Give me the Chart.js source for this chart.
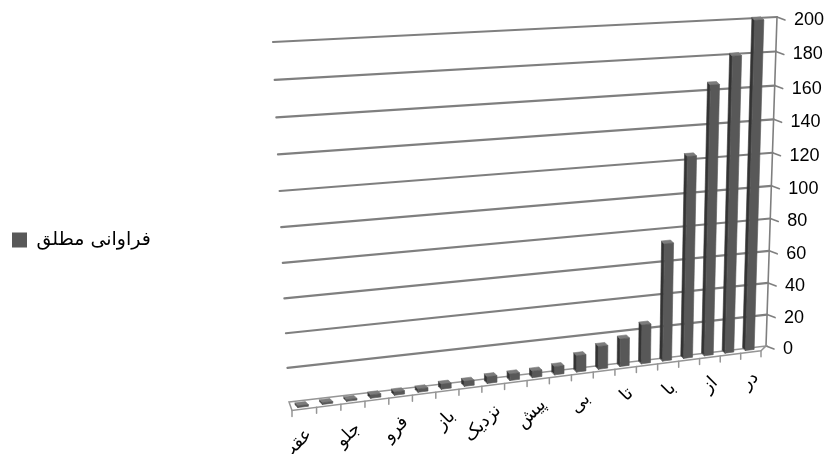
<!DOCTYPE html>
<html>
<head>
<meta charset="utf-8">
<script src="https://cdn.jsdelivr.net/npm/chart.js@4/dist/chart.umd.min.js"></script>
<style>
  html, body { margin: 0; padding: 0; background: #fff; }
</style>
</head>
<body>
<canvas id="chart-freq" width="832" height="454"></canvas>
<script>
// ===== Data (most frequent first, the axis runs right-to-left) =====
const categories = ['در', '', 'از', '', 'با', '', 'تا', '', 'بی', '', 'پیش', '',
                    'نزدیک', '', 'باز', '', 'فرو', '', 'جلو', '', 'عقب'];
const frequencies = [200, 180, 164, 123, 72, 24, 17, 14, 10, 5, 4,
                     4, 4, 3, 3, 2, 2, 2, 1, 1, 1];
const yTicks = [0, 20, 40, 60, 80, 100, 120, 140, 160, 180, 200];
const seriesLabel = 'فراوانی مطلق';

// ===== 3D look =====
const colors = {
  grid: '#7f7f7f',
  floor: '#959595',
  front: '#585858',
  side: '#333333',
  top: '#7c7c7c',
  text: '#000'
};

// corners of the back wall and of the plane the columns stand in (TL, TR, BR, BL)
const wallQuad = [[273, 42], [777, 17], [766, 346], [289, 402]];
const barQuad = [[276, 46], [770, 19.5], [760, 348.7], [291, 408.5]];
const depth = [-3, -3];   // offset from a column's front face to its back face

// square -> quad perspective mapping
function makeQuad(p) {
  const [p0, p1, p2, p3] = p;
  const dx1 = p1[0] - p2[0], dx2 = p3[0] - p2[0], dx3 = p0[0] - p1[0] + p2[0] - p3[0];
  const dy1 = p1[1] - p2[1], dy2 = p3[1] - p2[1], dy3 = p0[1] - p1[1] + p2[1] - p3[1];
  const den = dx1 * dy2 - dx2 * dy1;
  const g = (dx3 * dy2 - dx2 * dy3) / den;
  const h = (dx1 * dy3 - dx3 * dy1) / den;
  const a = p1[0] - p0[0] + g * p1[0], b = p3[0] - p0[0] + h * p3[0], c = p0[0];
  const d = p1[1] - p0[1] + g * p1[1], e = p3[1] - p0[1] + h * p3[1], f = p0[1];
  return (u, v) => {
    const w = g * u + h * v + 1;
    return [(a * u + b * v + c) / w, (d * u + e * v + f) / w];
  };
}

const wall = makeQuad(wallQuad);
const barPlane = makeQuad(barQuad);

function poly(ctx, pts, fill, stroke) {
  ctx.beginPath();
  pts.forEach((p, i) => i ? ctx.lineTo(p[0], p[1]) : ctx.moveTo(p[0], p[1]));
  ctx.closePath();
  if (fill) { ctx.fillStyle = fill; ctx.fill(); }
  if (stroke) { ctx.strokeStyle = stroke; ctx.stroke(); }
}

function line(ctx, a, b) {
  ctx.beginPath();
  ctx.moveTo(a[0], a[1]);
  ctx.lineTo(b[0], b[1]);
  ctx.stroke();
}

// Draws walls, floor, columns and axis texts by projecting the flat chart area
const perspective = {
  id: 'perspective',
  beforeDatasetsDraw() { return false; },
  afterDraw(chart) {
    const { ctx, chartArea: ca, scales } = chart;
    const xs = scales.x, ys = scales.y;
    const uv = (px, py) => [(px - ca.left) / (ca.right - ca.left), (py - ca.top) / (ca.bottom - ca.top)];
    const onWall = (px, py) => wall(...uv(px, py));
    const onBars = (px, py) => barPlane(...uv(px, py));
    const shift = (p, d) => [p[0] + d[0], p[1] + d[1]];

    ctx.save();
    ctx.lineCap = 'round';

    // gridlines on the back wall + ticks on the side
    ctx.strokeStyle = colors.grid;
    ctx.lineWidth = 2.2;
    yTicks.forEach(t => {
      const py = ys.getPixelForValue(t);
      const l = onWall(ca.left, py), r = onWall(ca.right, py);
      if (t > 0) line(ctx, l, r);
      ctx.lineWidth = 1.6;
      line(ctx, r, shift(r, [8, 3]));
      ctx.lineWidth = 2.2;
    });
    ctx.lineWidth = 1.6;
    line(ctx, onWall(ca.right, ca.top), onWall(ca.right, ca.bottom));

    // floor outline
    ctx.lineWidth = 1.5;
    const fl = shift(onBars(ca.left, ca.bottom), [1, 2]);
    const fr = shift(onBars(ca.right, ca.bottom), [1, 2]);
    poly(ctx, [onWall(ca.left, ca.bottom), onWall(ca.right, ca.bottom), fr, fl], null, colors.floor);

    // category ticks under the floor front edge
    ctx.strokeStyle = colors.floor;
    const step = (ca.right - ca.left) / categories.length;
    for (let i = 0; i <= categories.length; i++) {
      const p = shift(onBars(ca.left + i * step, ca.bottom), [1, 2]);
      line(ctx, p, [p[0], p[1] + 6]);
    }

    // columns
    ctx.lineWidth = 0.6;
    const meta = chart.getDatasetMeta(0);
    meta.data.forEach(el => {
      const x0 = el.x - el.width / 2, x1 = el.x + el.width / 2;
      const fbl = onBars(x0, el.base), fbr = onBars(x1, el.base);
      const ftl = onBars(x0, el.y), ftr = onBars(x1, el.y);
      const btl = shift(ftl, depth), btr = shift(ftr, depth), bbl = shift(fbl, depth);
      poly(ctx, [fbl, ftl, btl, bbl], colors.side, colors.side);
      poly(ctx, [ftl, ftr, btr, btl], colors.top, colors.top);
      poly(ctx, [fbl, fbr, ftr, ftl], colors.front, colors.front);
    });

    // value axis labels
    ctx.fillStyle = colors.text;
    ctx.font = '18px "Liberation Sans", Arial, sans-serif';
    ctx.textAlign = 'left';
    ctx.textBaseline = 'middle';
    yTicks.forEach(t => {
      const r = onWall(ca.right, ys.getPixelForValue(t));
      ctx.fillText(String(t), r[0] + 17, r[1] + 3);
    });

    // category labels, rotated
    ctx.font = '18px "DejaVu Sans", sans-serif';
    ctx.textAlign = 'right';
    categories.forEach((c, i) => {
      if (!c) return;
      const p = onBars(xs.getPixelForValue(i), ca.bottom);
      ctx.save();
      ctx.translate(p[0] + 6, p[1] + 25);
      ctx.rotate(-Math.PI / 4);
      ctx.fillText(c, 0, 0);
      ctx.restore();
    });

    ctx.restore();
  }
};

new Chart(document.getElementById('chart-freq'), {
  type: 'bar',
  data: {
    labels: categories,
    datasets: [{
      label: seriesLabel,
      data: frequencies,
      backgroundColor: colors.front,
      borderWidth: 0,
      barPercentage: 0.42,
      categoryPercentage: 1
    }]
  },
  options: {
    responsive: false,
    animation: false,
    layout: { padding: { left: 2, top: 26, right: 0, bottom: 0 } },
    plugins: {
      tooltip: { enabled: false },
      legend: {
        position: 'left',
        labels: {
          color: colors.text,
          boxWidth: 15,
          boxHeight: 15,
          padding: 10,
          font: { family: '"DejaVu Sans", sans-serif', size: 19 }
        }
      }
    },
    scales: {
      x: { display: false, reverse: true },
      y: { display: false, min: yTicks[0], max: yTicks[yTicks.length - 1], ticks: { stepSize: 20 } }
    }
  },
  plugins: [perspective]
});
</script>
</body>
</html>
